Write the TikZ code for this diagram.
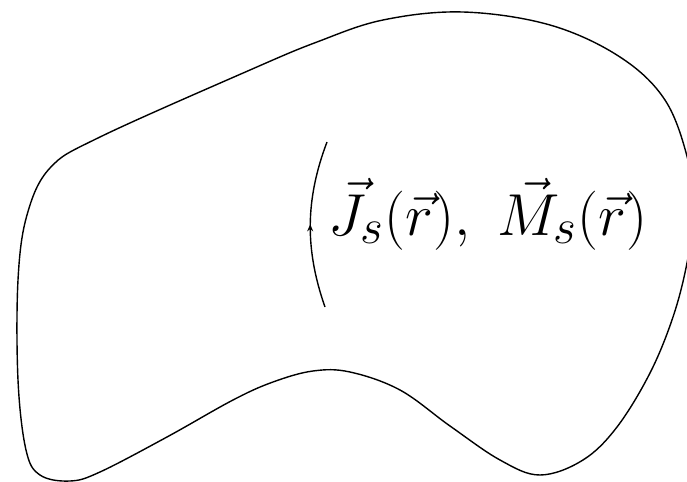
\documentclass[tikz,border=0pt]{standalone}
\usepackage{graphicx}
\usetikzlibrary{decorations.markings,arrows.meta}
\begin{document}
\begin{tikzpicture}[x=0.5pt,y=-0.5pt,
  outline/.style={line width=0.7pt},
  flow/.style={line width=0.7pt,postaction={decorate},
    decoration={markings,mark=at position 0.5 with {\arrow{Stealth[length=3.5pt,width=3pt]}}}},
  lbl/.style={font=\Huge, anchor=base, inner sep=0pt}]
\useasboundingbox (0,0) rectangle (687,482);
\clip (0,0) rectangle (687,482);
\draw[outline] plot[smooth cycle, tension=0.6] coordinates {
  (100,137) (250,70) (317,42) (383,20) (463,12)
  (550,25) (620,57) (665,100) (688,160) (694,210)
  (687,263) (673,317) (650,373) (617,427) (583,460) (540,475)
  (500,460) (450,426) (400,390) (350,372) (313,371) (273,382)
  (233,400) (167,437) (100,472) (70,481) (40,475) (26,450)
  (18,380) (18,280) (27,215) (50,168)};
\coordinate (arcbot) at (325,307);
\coordinate (arctop) at (327,142);
\draw[flow] (arcbot) .. controls (305,250) and (305,200) .. (arctop);
\node[lbl] (label) at (488,235) {\scalebox{1.19}{$\vec{J}_s(\vec{r}),\ \vec{M}_s(\vec{r})$}};
\end{tikzpicture}
\end{document}
